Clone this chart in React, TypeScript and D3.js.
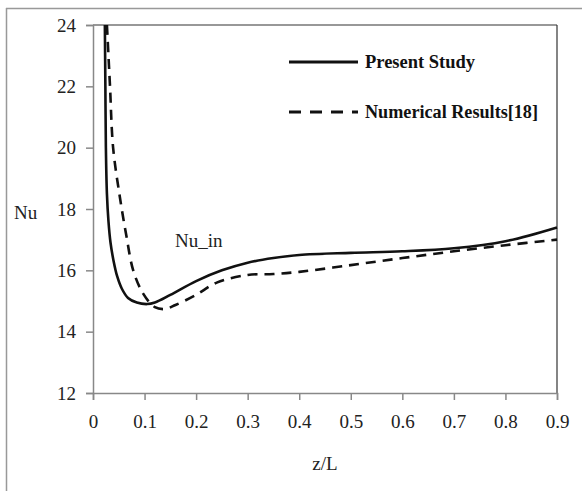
import React, { useEffect, useRef } from "react";
import * as d3 from "d3";

// Present Study (solid)
const presentZ = [0.023, 0.024, 0.025, 0.027, 0.03, 0.034, 0.04, 0.047, 0.056, 0.068, 0.085, 0.105, 0.12, 0.15, 0.2, 0.25, 0.3, 0.35, 0.4, 0.5, 0.6, 0.7, 0.8, 0.9];
const presentNu = [24, 22, 20, 18.5, 17.6, 16.9, 16.3, 15.8, 15.4, 15.1, 14.95, 14.9, 14.95, 15.2, 15.65, 16.0, 16.25, 16.4, 16.5, 16.57, 16.62, 16.72, 16.95, 17.4];

// Numerical Results[18] (dashed)
const numericalZ = [0.027, 0.03, 0.033, 0.039, 0.052, 0.065, 0.078, 0.097, 0.12, 0.14, 0.16, 0.2, 0.24, 0.3, 0.35, 0.4, 0.5, 0.6, 0.7, 0.8, 0.9];
const numericalNu = [24, 23, 22, 20, 18.4, 17.1, 16, 15.25, 14.8, 14.74, 14.87, 15.2, 15.6, 15.85, 15.88, 15.95, 16.17, 16.4, 16.62, 16.82, 17.0];

const xTicks = [0, 0.1, 0.2, 0.3, 0.4, 0.5, 0.6, 0.7, 0.8, 0.9];
const yTicks = [12, 14, 16, 18, 20, 22, 24];

const seriesNames = ["Present Study", "Numerical Results[18]"];
const legendWidths = [110, 173];

const FONT = "Liberation Serif";

const App = () => {
  const ref = useRef<SVGSVGElement>(null);

  useEffect(() => {
    const width = 582;
    const height = 491;
    const margin = { top: 25, right: 25, bottom: 98, left: 93 };
    const innerWidth = width - margin.left - margin.right;
    const innerHeight = height - margin.top - margin.bottom;

    const svg = d3.select(ref.current).attr("width", width).attr("height", height).attr("font-family", FONT);
    svg.selectAll("*").remove();

    // outer frame (only top + left are visible in the picture)
    svg.append("line").attr("x1", 6).attr("x2", width).attr("y1", 8.5).attr("y2", 8.5).attr("stroke", "#999").attr("stroke-width", 1.5);
    svg.append("line").attr("x1", 6.5).attr("x2", 6.5).attr("y1", 8).attr("y2", height).attr("stroke", "#999").attr("stroke-width", 1.5);

    const g = svg.append("g").attr("transform", `translate(${margin.left}, ${margin.top})`);

    const xScale = d3.scaleLinear().domain([0, 0.9]).range([0, innerWidth]);
    const yScale = d3.scaleLinear().domain([12, 24]).range([innerHeight, 0]);

    // plot area border, top + right
    g.append("line").attr("x1", 0).attr("x2", innerWidth).attr("y1", 0).attr("y2", 0).attr("stroke", "#333").attr("stroke-width", 1.2);
    g.append("line").attr("x1", innerWidth).attr("x2", innerWidth).attr("y1", 0).attr("y2", innerHeight).attr("stroke", "#333").attr("stroke-width", 1.2);

    const xAxis = d3.axisBottom(xScale).tickValues(xTicks).tickSize(7).tickPadding(15).tickFormat(d => d3.format("")(+d));
    const yAxis = d3.axisLeft(yScale).tickValues(yTicks).tickSize(7).tickPadding(10);

    const gx = g.append("g").attr("transform", `translate(0, ${innerHeight})`).call(xAxis);
    const gy = g.append("g").call(yAxis);

    [gx, gy].forEach(ax => {
      ax.attr("font-family", FONT).attr("font-size", 19);
      ax.select(".domain").attr("stroke", "#888").attr("stroke-width", 1.5);
      ax.selectAll(".tick line").attr("stroke", "#888").attr("stroke-width", 1.5);
      ax.selectAll(".tick text").attr("fill", "#222");
    });

    const presentData: [number, number][] = presentZ.map((z, i) => [z, presentNu[i]]);
    const numericalData: [number, number][] = numericalZ.map((z, i) => [z, numericalNu[i]]);

    const lineCurve = d3.line<[number, number]>()
      .x(d => xScale(d[0]))
      .y(d => yScale(d[1]))
      .curve(d3.curveCatmullRom.alpha(0.5));

    g.append("path").datum(numericalData).attr("d", lineCurve).attr("fill", "none")
      .attr("stroke", "#111").attr("stroke-width", 2.6).attr("stroke-dasharray", "10,7");
    g.append("path").datum(presentData).attr("d", lineCurve).attr("fill", "none")
      .attr("stroke", "#111").attr("stroke-width", 2.6);

    // legend
    const legend = svg.append("g");
    [0, 1].forEach(i => {
      const y = 62 + i * 50;
      legend.append("line").attr("x1", 289).attr("x2", 358).attr("y1", y).attr("y2", y)
        .attr("stroke", "#111").attr("stroke-width", 2.8)
        .attr("stroke-dasharray", i === 1 ? "12,9" : null);
      legend.append("text").attr("x", 365).attr("y", y).attr("dy", "0.35em")
        .attr("font-family", FONT).attr("font-size", 18).attr("font-weight", "bold").attr("fill", "#111")
        .attr("textLength", legendWidths[i]).attr("lengthAdjust", "spacingAndGlyphs")
        .text(seriesNames[i]);
    });

    const label = (x: number, y: number, txt: string, anchor = "start") =>
      svg.append("text").attr("x", x).attr("y", y).attr("dy", "0.35em").attr("text-anchor", anchor)
        .attr("font-family", FONT).attr("font-size", 19).attr("fill", "#222").text(txt);

    label(14, 212, "Nu");
    label(175, 240, "Nu_in");
    label(325, 463, "z/L", "middle");
  }, []);

  return <svg ref={ref} style={{ position: "absolute", left: 0, top: 0 }}></svg>;
};

export default App;
